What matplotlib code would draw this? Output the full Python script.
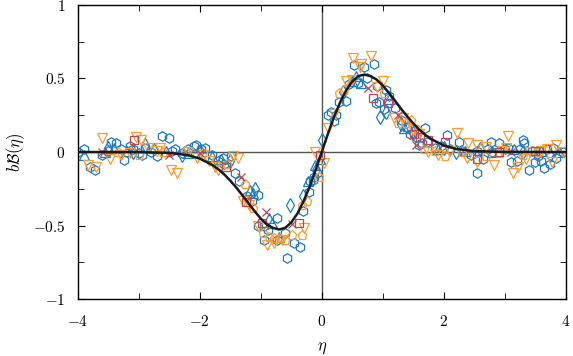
import matplotlib
matplotlib.use("Agg")
import matplotlib.pyplot as plt
from matplotlib.ticker import MultipleLocator, FuncFormatter

plt.rcParams['mathtext.fontset'] = 'cm'

# fitted curve
eta_fit = [-4.0, -3.0, -2.5, -2.2, -2.0, -1.8, -1.7, -1.6, -1.5, -1.4, -1.3, -1.2, -1.1,
           -1.0, -0.9, -0.8, -0.7, -0.6, -0.5, -0.4, -0.3, -0.2, -0.1, 0.0,
           0.1, 0.2, 0.3, 0.4, 0.5, 0.6, 0.7, 0.8, 0.9, 1.0, 1.1, 1.2, 1.3,
           1.4, 1.5, 1.6, 1.7, 1.8, 2.0, 2.2, 2.5, 3.0, 4.0]
b_fit = [0.0, -0.0005, -0.006, -0.021, -0.045, -0.087, -0.116, -0.152, -0.195, -0.243,
         -0.295, -0.350, -0.403, -0.453, -0.493, -0.516, -0.527, -0.516, -0.479, -0.419,
         -0.336, -0.237, -0.122, 0.0,
         0.122, 0.237, 0.336, 0.419, 0.479, 0.516, 0.527, 0.516, 0.493, 0.453, 0.403,
         0.350, 0.295, 0.243, 0.195, 0.152, 0.116, 0.087, 0.045, 0.021, 0.006, 0.0005, 0.0]

# blue hexagons
hex_x = [-4.0, -3.8, -3.72, -3.6, -3.5, -3.45, -3.37, -3.3, -3.24, -3.1, -3.0, -2.9, -2.8,
         -2.7, -2.62, -2.51, -2.4, -2.3, -2.2, -2.1, -2.06, -1.91, -1.8, -1.7, -1.6, -1.49,
         -1.42, -1.35, -1.05, -0.95, -1.05, -0.94, -0.73, -0.73, -0.57, -0.45, -0.36, -0.6,
         -0.21, -0.19, -0.13, -0.15, -0.08,
         0.11, 0.16, 0.24, 0.28, 0.40, 0.53, 0.6, 0.7, 0.86, 0.89, 0.94, 0.9, 1.05, 1.1,
         1.02, 1.3, 1.4, 1.45, 1.55, 1.7, 1.65, 1.72, 1.85, 2.06, 2.1, 2.25, 2.3, 2.54,
         2.55, 2.65, 2.78, 2.9, 2.8, 3.1, 3.2, 3.3, 3.32, 3.25, 3.4, 3.5, 3.6, 3.65, 3.75,
         3.85, 3.95, 3.0, 3.7,
         -3.9, -3.15, -2.95, -2.45, -1.98, -1.62, -1.22, -1.15, -0.88, -0.3, 0.2, 0.45,
         0.75, 1.2, 1.6, 1.95, 2.45, 2.72, 3.05, 3.45, 3.55, 3.8]
hex_y = [0.0, -0.10, -0.12, -0.02, 0.01, 0.07, 0.06, 0.02, -0.055, 0.02, -0.01, 0.03, 0.0,
         -0.03, 0.11, 0.095, 0.02, -0.01, 0.02, 0.04, 0.05, 0.03, -0.02, -0.06, -0.08, -0.03,
         -0.14, -0.2, -0.29, -0.5, -0.5, -0.60, -0.60, -0.45, -0.72, -0.62, -0.645, -0.55,
         -0.27, -0.2, -0.17, -0.19, -0.14,
         0.25, 0.27, 0.25, 0.34, 0.35, 0.59, 0.47, 0.58, 0.6, 0.33, 0.34, 0.45, 0.42, 0.38,
         0.29, 0.22, 0.17, 0.12, 0.1, 0.16, 0.06, 0.07, 0.03, 0.115, 0.02, 0.07, 0.01, -0.14,
         0.01, -0.05, 0.07, 0.06, 0.0, -0.07, -0.06, 0.08, 0.06, 0.02, -0.12, -0.07, -0.06,
         -0.11, -0.08, -0.04, 0.0, 0.02, 0.02,
         0.02, 0.04, -0.02, 0.01, 0.02, -0.04, -0.3, -0.33, -0.53, -0.4, 0.21, 0.46,
         0.5, 0.3, 0.05, 0.04, -0.02, 0.02, 0.03, 0.01, -0.03, 0.03]

# blue diamonds
dia_x = [-3.5, -2.9, -2.3, -1.5, -1.1, -0.52, -0.3, -0.1, 0.0, 0.35, 0.95, 1.05, 1.5, 2.0,
         2.6, 3.3, -3.1, -2.0, 1.3, 2.2, 3.75]
dia_y = [0.03, 0.05, -0.02, -0.06, -0.25, -0.36, -0.3, -0.12, 0.08, 0.41, 0.24, 0.27, 0.13,
         0.03, 0.02, 0.0, 0.0, 0.01, 0.19, 0.0, -0.02]

# blue triangles
tri_x = [-3.9, -3.55, -3.2, -2.75, -2.2, -1.65, -1.18, -1.12, -0.86, -0.81, -0.7, -0.22, -0.11,
         -0.03, 0.5, 0.57, 0.65, 1.35, 1.42, 1.9, 2.8, 3.6, 3.9, -3.4, -2.55, -1.8, 1.1, 2.35, 3.15]
tri_y = [-0.02, 0.0, 0.01, 0.03, -0.01, -0.05, -0.26, -0.28, -0.45, -0.48, -0.58, -0.2, -0.09,
         -0.05, 0.48, 0.52, 0.47, 0.16, 0.18, 0.02, 0.0, 0.01, 0.0, 0.03, 0.01, -0.03, 0.36, 0.01, 0.02]

# orange triangles down
tdn_x = [-3.84, -3.7, -3.6, -3.48, -3.3, -3.04, -2.96, -2.85, -2.7, -2.48, -2.38, -2.2, -1.95,
         -1.75, -1.70, -1.85, -1.46, -1.38, -1.3, -1.2, -0.89, -0.78, -0.65, -0.29, -0.11,
         0.03, 0.11, 0.40, 0.49, 0.52, 0.62, 0.65, 0.81, 1.0, 1.18, 1.33, 1.6, 1.75, 2.22,
         2.4, 2.55, 2.7, 2.38, 2.54, 2.83, 2.95, 3.05, 3.02, 3.13, 3.22, 3.42, 3.6, 3.78,
         3.85, 3.96,
         -3.15, -2.65, -2.05, -1.05, 0.2, 0.9, 1.5, 1.9, 2.1, 3.35, 3.7]
tdn_y = [-0.09, -0.10, 0.095, -0.05, -0.02, 0.10, 0.08, 0.03, 0.01, -0.12, -0.14, 0.0, -0.02,
         -0.10, -0.12, -0.06, -0.03, -0.04, -0.33, -0.36, -0.63, -0.62, -0.60, -0.52, 0.0,
         -0.075, 0.16, 0.48, 0.49, 0.64, 0.58, 0.6, 0.65, 0.48, 0.23, 0.23, 0.12, 0.0, 0.13,
         0.06, 0.05, 0.035, -0.04, -0.07, -0.09, 0.01, 0.11, 0.03, -0.14, -0.10, 0.0, 0.01,
         -0.07, 0.05, 0.0,
         -0.01, 0.03, -0.04, -0.5, 0.26, 0.44, 0.15, -0.02, 0.01, -0.05, 0.02]

# orange pentagons
pen_x = [-3.35, -2.6, -1.55, -1.26, -1.13, -0.97, -0.86, -0.78, -0.68, -0.6, -0.49, -0.32,
         -0.32, -0.24, -0.05, 0.29, 0.37, 1.02, 1.25, 1.38, 1.46, 1.58, 1.67, 1.85, 2.03,
         2.3, 2.7, 3.3, -3.0, -2.25, 2.9, 3.55]
pen_y = [0.0, 0.0, -0.08, -0.22, -0.38, -0.55, -0.58, -0.585, -0.585, -0.6, -0.565, -0.565,
         -0.36, -0.33, -0.17, 0.40, 0.42, 0.4, 0.2, 0.2, 0.22, 0.15, 0.02, 0.01, -0.03,
         0.0, -0.03, -0.02, -0.02, 0.01, -0.01, 0.0]

# red squares
sq_x = [-3.08, -1.57, -1.25, -0.98, -0.37, -0.03, 0.84, 1.08, 1.52, 1.62, 1.75, 2.02, 2.55, 2.9, 3.5]
sq_y = [0.08, -0.10, -0.34, -0.48, -0.48, -0.02, 0.37, 0.33, 0.12, 0.1, 0.08, 0.07, -0.05, 0.0, 0.01]

# red crosses
cr_x = [-3.6, -2.5, -2.0, -1.33, -0.92, -0.48, 0.76, 1.25, 1.55, 3.1]
cr_y = [0.0, -0.02, -0.01, -0.17, -0.41, -0.49, 0.435, 0.25, 0.05, 0.0]

blue = '#1f7cc4'
orange = '#ff9b30'
red = '#c84450'

fig = plt.figure(figsize=(5.73, 3.56), dpi=100)
ax = fig.add_axes([0.136, 0.160, 0.851, 0.826])

ax.axhline(0, color='#555555', lw=1.0, zorder=1)
ax.axvline(0, color='#555555', lw=1.0, zorder=1)

ms = 6.8
ax.plot(hex_x, hex_y, 'h', mfc='none', mec=blue, ms=ms, mew=0.9, zorder=2)
ax.plot(dia_x, dia_y, 'd', mfc='none', mec=blue, ms=ms, mew=0.9, zorder=2)
ax.plot(tri_x, tri_y, '^', mfc='none', mec=blue, ms=ms, mew=0.9, zorder=2)
ax.plot(tdn_x, tdn_y, 'v', mfc='none', mec=orange, ms=ms + 1, mew=0.9, zorder=2)
ax.plot(pen_x, pen_y, 'p', mfc='none', mec=orange, ms=ms, mew=0.9, zorder=2)
ax.plot(sq_x, sq_y, 's', mfc='none', mec=red, ms=ms - 1, mew=0.9, zorder=2)
ax.plot(cr_x, cr_y, 'x', color=red, ms=ms - 1, mew=0.9, zorder=2)

ax.plot(eta_fit, b_fit, color='#1a1a1a', lw=1.8, zorder=3)

ax.set_xlim(-4, 4)
ax.set_ylim(-1, 1)
ax.xaxis.set_major_locator(MultipleLocator(2))
ax.xaxis.set_minor_locator(MultipleLocator(1))
ax.yaxis.set_major_locator(MultipleLocator(0.5))
ax.yaxis.set_minor_locator(MultipleLocator(0.25))


def fmt(v, pos):
    return '$%g$' % v


ax.xaxis.set_major_formatter(FuncFormatter(fmt))
ax.yaxis.set_major_formatter(FuncFormatter(fmt))
ax.tick_params(which='both', direction='in', top=True, right=True, labelsize=11)
ax.tick_params(axis='x', pad=11)
ax.tick_params(axis='y', pad=9)
ax.tick_params(which='major', length=5)
ax.tick_params(which='minor', length=4)
for s in ax.spines.values():
    s.set_linewidth(1.0)

ax.set_xlabel(r'$\eta$', fontsize=12, labelpad=6)
ax.set_ylabel(r'$b\mathcal{B}(\eta)$', fontsize=12, labelpad=4)

fig.savefig('out.png', dpi=100)
